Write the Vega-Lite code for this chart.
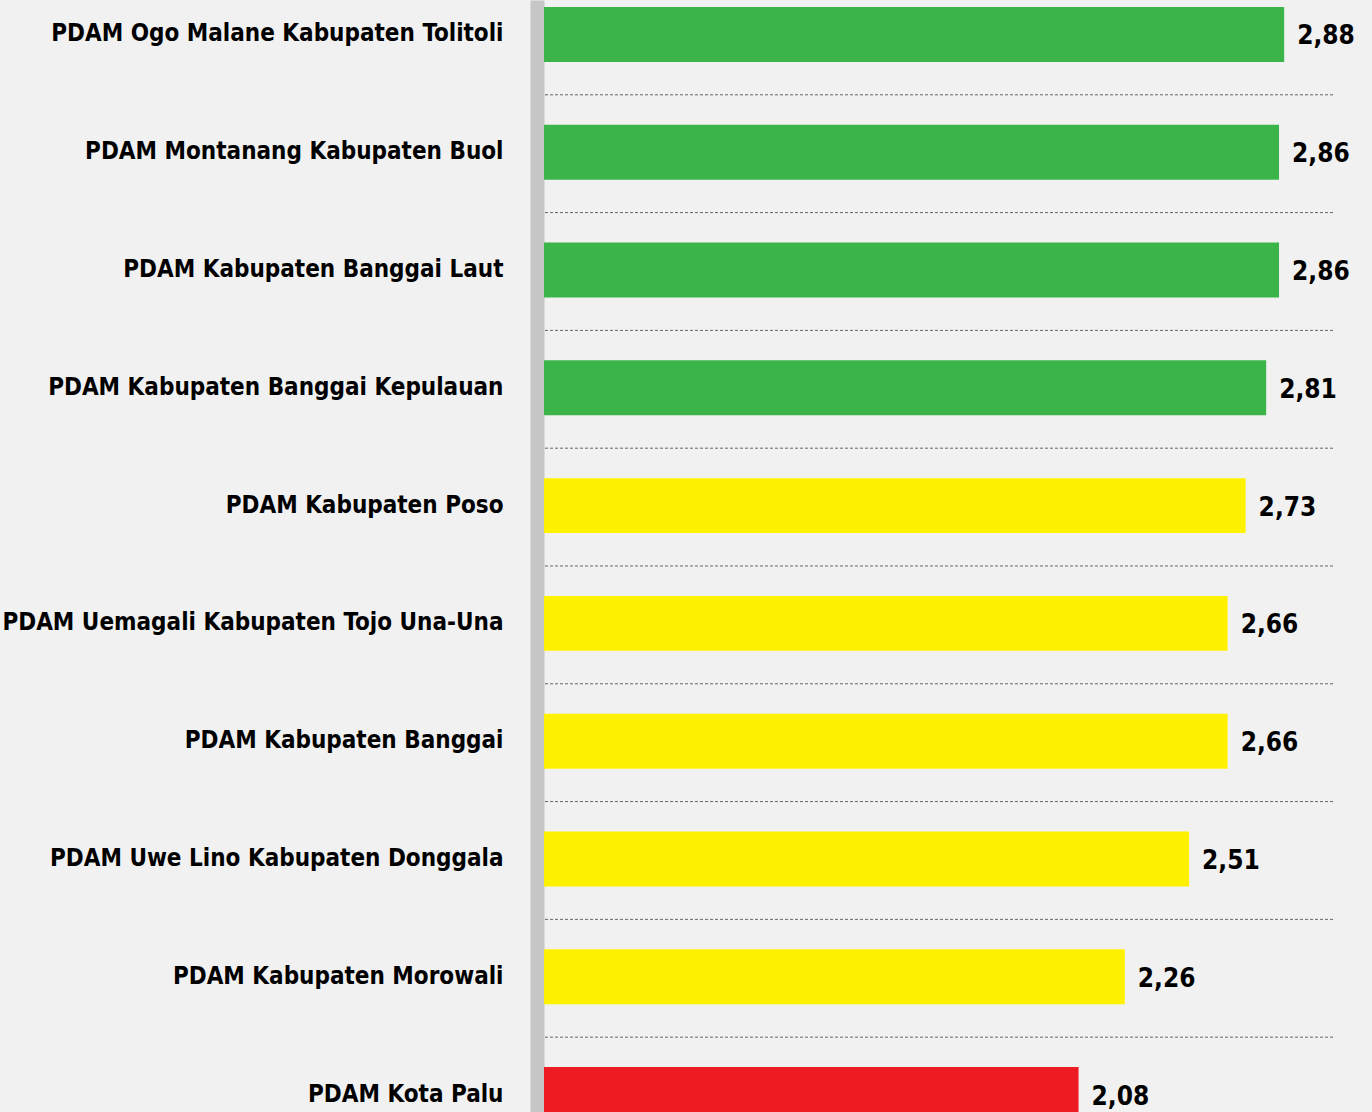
{
  "$schema": "https://vega.github.io/schema/vega-lite/v6.json",
  "width": 789,
  "height": 1112,
  "autosize": {"type": "none"},
  "padding": {"left": 544, "top": 0, "right": 39, "bottom": 0},
  "background": "#f1f1f1",
  "config": {
    "view": {"stroke": null},
    "locale": {"number": {"decimal": ",", "thousands": ".", "grouping": [3], "currency": ["Rp", ""]}},
    "font": "DejaVu Sans Condensed"
  },
  "data": {
    "values": [
      {"pdam": "PDAM Ogo Malane Kabupaten Tolitoli", "nilai": 2.88, "kategori": "Sehat"},
      {"pdam": "PDAM Montanang  Kabupaten Buol", "nilai": 2.86, "kategori": "Sehat"},
      {"pdam": "PDAM Kabupaten Banggai Laut", "nilai": 2.86, "kategori": "Sehat"},
      {"pdam": "PDAM Kabupaten Banggai Kepulauan", "nilai": 2.81, "kategori": "Sehat"},
      {"pdam": "PDAM Kabupaten Poso", "nilai": 2.73, "kategori": "Kurang Sehat"},
      {"pdam": "PDAM Uemagali Kabupaten Tojo Una-Una", "nilai": 2.66, "kategori": "Kurang Sehat"},
      {"pdam": "PDAM Kabupaten Banggai", "nilai": 2.66, "kategori": "Kurang Sehat"},
      {"pdam": "PDAM Uwe Lino Kabupaten Donggala", "nilai": 2.51, "kategori": "Kurang Sehat"},
      {"pdam": "PDAM Kabupaten Morowali", "nilai": 2.26, "kategori": "Kurang Sehat"},
      {"pdam": "PDAM Kota Palu", "nilai": 2.08, "kategori": "Sakit"}
    ]
  },
  "layer": [
    {
      "mark": {"type": "rule", "color": "#666666", "strokeDash": [3, 2], "strokeWidth": 1},
      "encoding": {
        "y": {
          "field": "pdam",
          "type": "nominal",
          "sort": null,
          "bandPosition": 1.6,
          "scale": {"range": [0, 1129], "paddingInner": 0.534, "paddingOuter": 0.0593},
          "axis": {
            "title": null,
            "ticks": false,
            "offset": 7,
            "labelPadding": 34,
            "labelFont": "DejaVu Sans Condensed",
            "labelFontWeight": "bold",
            "labelFontSize": 24,
            "labelColor": "#000000",
            "labelLimit": 600,
            "domainColor": "#c6c6c6",
            "domainWidth": 14,
            "grid": false
          }
        }
      }
    },
    {
      "mark": {"type": "bar"},
      "encoding": {
        "y": {"field": "pdam", "type": "nominal", "sort": null},
        "x": {
          "field": "nilai",
          "type": "quantitative",
          "scale": {"domain": [0, 3.07], "nice": false, "zero": true},
          "axis": null
        },
        "color": {
          "field": "kategori",
          "type": "nominal",
          "scale": {"domain": ["Sehat", "Kurang Sehat", "Sakit"], "range": ["#3bb54a", "#fff200", "#ed1c24"]},
          "legend": null
        }
      }
    },
    {
      "mark": {"type": "text", "align": "left", "baseline": "middle", "dx": 13, "dy": 2, "font": "DejaVu Sans Condensed", "fontWeight": "bold", "fontSize": 26, "color": "#000000"},
      "encoding": {
        "y": {"field": "pdam", "type": "nominal", "sort": null},
        "x": {"field": "nilai", "type": "quantitative"},
        "text": {"field": "nilai", "type": "quantitative", "format": ".2f"}
      }
    }
  ]
}
